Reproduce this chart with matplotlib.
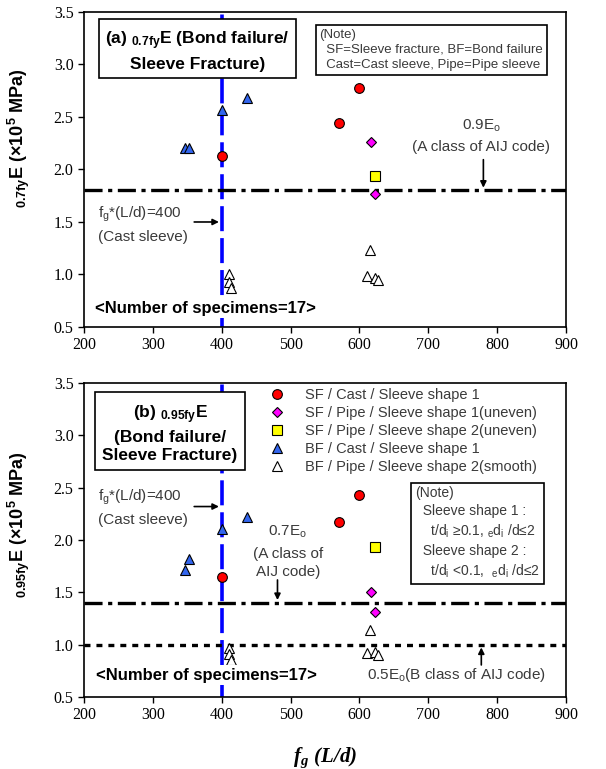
import numpy as np
import matplotlib
matplotlib.use("Agg")
import matplotlib.pyplot as plt

plt.rcParams['font.family'] = ['Liberation Sans', 'DejaVu Sans']
plt.rcParams['mathtext.fontset'] = 'custom'
plt.rcParams['mathtext.rm'] = 'Liberation Sans'
plt.rcParams['mathtext.it'] = 'Liberation Sans:italic'
plt.rcParams['mathtext.bf'] = 'Liberation Sans:bold'
plt.rcParams['mathtext.bfit'] = 'Liberation Serif:italic:bold'
plt.rcParams['lines.scale_dashes'] = False

# ---- data: panel (a) 0.7fy E ----
a_sf_cast_x = [400, 570, 600]
a_sf_cast_y = [2.13, 2.44, 2.78]
a_sf_pipe1_x = [617, 622]
a_sf_pipe1_y = [2.26, 1.77]
a_sf_pipe2_x = [622]
a_sf_pipe2_y = [1.94]
a_bf_cast_x = [347, 352, 400, 437]
a_bf_cast_y = [2.20, 2.20, 2.57, 2.68]
a_bf_pipe_x = [411, 410, 414, 616, 611, 622, 627]
a_bf_pipe_y = [1.00, 0.93, 0.87, 1.23, 0.99, 0.97, 0.95]

# ---- data: panel (b) 0.95fy E ----
b_sf_cast_x = [400, 570, 600]
b_sf_cast_y = [1.65, 2.17, 2.43]
b_sf_pipe1_x = [617, 622]
b_sf_pipe1_y = [1.50, 1.31]
b_sf_pipe2_x = [622]
b_sf_pipe2_y = [1.93]
b_bf_cast_x = [347, 352, 400, 437]
b_bf_cast_y = [1.71, 1.82, 2.11, 2.22]
b_bf_pipe_x = [411, 410, 414, 616, 611, 622, 627]
b_bf_pipe_y = [0.97, 0.91, 0.85, 1.14, 0.92, 0.93, 0.90]

labels = ["SF / Cast / Sleeve shape 1",
          "SF / Pipe / Sleeve shape 1(uneven)",
          "SF / Pipe / Sleeve shape 2(uneven)",
          "BF / Cast / Sleeve shape 1",
          "BF / Pipe / Sleeve shape 2(smooth)"]

xticks = [200, 300, 400, 500, 600, 700, 800, 900]
yticks = [0.5, 1.0, 1.5, 2.0, 2.5, 3.0, 3.5]
fg_limit = 400
line_a = 1.8      # 0.9 Eo
line_b = 1.4      # 0.7 Eo
line_b2 = 1.0     # 0.5 Eo

gray = '#3a3a3a'

fig = plt.figure(figsize=(6.06, 7.69), dpi=100)
ax1 = fig.add_axes([0.1386, 0.5748, 0.7954, 0.4096])
ax2 = fig.add_axes([0.1386, 0.0936, 0.7954, 0.4083])


def draw_points(ax, d, with_label=False):
	styles = [dict(marker='o', mfc='#FF0000', ms=7),
	          dict(marker='D', mfc='#FF00FF', ms=5),
	          dict(marker='s', mfc='#FFFF00', ms=7),
	          dict(marker='^', mfc='#3366EE', ms=7.5),
	          dict(marker='^', mfc='white', ms=7.5)]
	for i, (x, y) in enumerate(d):
		ax.plot(x, y, ls='none', mec='black', mew=0.8, zorder=5,
		        label=labels[i] if with_label else None, **styles[i])


def setup(ax):
	ax.set_xlim(200, 900)
	ax.set_ylim(0.5, 3.5)
	ax.set_xticks(xticks)
	ax.set_yticks(yticks)
	ax.set_yticklabels(["%.1f" % v for v in yticks])
	ax.tick_params(direction='out', length=4, width=1, labelsize=11.5)
	for lab in ax.get_xticklabels() + ax.get_yticklabels():
		lab.set_fontfamily('Liberation Serif')
	for s in ax.spines.values():
		s.set_linewidth(1.2)
	ax.axvline(fg_limit, color='#0000FF', lw=2.6, dashes=(18, 5), zorder=2)


white_bg = dict(boxstyle='square,pad=0.15', fc='white', ec='none')

# ---------------- panel (a) ----------------
setup(ax1)
ax1.axhline(line_a, color='black', lw=2.4, dashes=(13, 4, 3, 4), zorder=2)
draw_points(ax1, [(a_sf_cast_x, a_sf_cast_y), (a_sf_pipe1_x, a_sf_pipe1_y),
                  (a_sf_pipe2_x, a_sf_pipe2_y), (a_bf_cast_x, a_bf_cast_y),
                  (a_bf_pipe_x, a_bf_pipe_y)])
ax1.set_ylabel(r"$\mathbf{_{0.7fy}E\ (\times 10^5\ MPa)}$", fontsize=13)
ax1.yaxis.set_label_coords(-0.108, 0.6)

ax1.text(365, 3.13, r"(a) $\mathbf{_{0.7fy}E}$ (Bond failure/" + "\nSleeve Fracture)",
         ha='center', va='center', fontsize=12.5, fontweight='bold',
         linespacing=1.45, zorder=6,
         bbox=dict(boxstyle='square,pad=0.35', fc='white', ec='black', lw=1.2))
ax1.text(542, 3.14, "(Note)\n  SF=Sleeve fracture, BF=Bond failure\n  Cast=Cast sleeve, Pipe=Pipe sleeve",
         ha='left', va='center', fontsize=9.5, color=gray, linespacing=1.35,
         zorder=6, bbox=dict(boxstyle='square,pad=0.3', fc='white', ec='black', lw=1.2))
ax1.text(777, 2.42, r"0.9E$_\mathrm{o}$", ha='center', va='center', fontsize=11, color=gray)
ax1.text(777, 2.21, "(A class of AIJ code)", ha='center', va='center', fontsize=11, color=gray)
ax1.annotate("", xy=(780, line_a), xytext=(780, 2.12),
             arrowprops=dict(arrowstyle='-|>', color='black', lw=1.2, mutation_scale=9))
ax1.text(220, 1.57, r"f$_\mathrm{g}$*(L/d)=400", ha='left', va='center', fontsize=11, color=gray)
ax1.text(220, 1.36, "(Cast sleeve)", ha='left', va='center', fontsize=11, color=gray)
ax1.annotate("", xy=(fg_limit, 1.5), xytext=(356, 1.5),
             arrowprops=dict(arrowstyle='-|>', color='black', lw=1.2, mutation_scale=9))
ax1.text(216, 0.68, "<Number of specimens=17>", ha='left', va='center',
         fontsize=12, fontweight='bold', zorder=6, bbox=white_bg)

# ---------------- panel (b) ----------------
setup(ax2)
ax2.axhline(line_b, color='black', lw=2.4, dashes=(13, 4, 3, 4), zorder=2)
ax2.axhline(line_b2, color='black', lw=2.4, dashes=(4.3, 4.3), zorder=2)
draw_points(ax2, [(b_sf_cast_x, b_sf_cast_y), (b_sf_pipe1_x, b_sf_pipe1_y),
                  (b_sf_pipe2_x, b_sf_pipe2_y), (b_bf_cast_x, b_bf_cast_y),
                  (b_bf_pipe_x, b_bf_pipe_y)], with_label=True)
ax2.set_ylabel(r"$\mathbf{_{0.95fy}E\ (\times 10^5\ MPa)}$", fontsize=13)
ax2.yaxis.set_label_coords(-0.108, 0.55)
ax2.set_xlabel(r"$\mathbfit{f_g\ (L/d)}$", fontsize=15)
ax2.xaxis.set_label_coords(0.5, -0.155)

leg = ax2.legend(loc='upper left', bbox_to_anchor=(0.385, 0.985), frameon=False,
                 fontsize=10.5, handlelength=1.0, handletextpad=1.4,
                 labelspacing=0.28, borderpad=0, borderaxespad=0)
for t in leg.get_texts():
	t.set_color(gray)

ax2.text(325, 3.02, r"(b) $\mathbf{_{0.95fy}E}$" + "\n(Bond failure/\nSleeve Fracture)",
         ha='center', va='center', fontsize=12.5, fontweight='bold',
         linespacing=1.3, zorder=6,
         bbox=dict(boxstyle='square,pad=0.4', fc='white', ec='black', lw=1.2))
ax2.text(681, 2.07,
         "(Note)\n  Sleeve shape 1 :\n    t/d$_\\mathrm{i}$ \u22650.1, $_\\mathrm{e}$d$_\\mathrm{i}$ /d\u22642\n"
         "  Sleeve shape 2 :\n    t/d$_\\mathrm{i}$ <0.1,  $_\\mathrm{e}$d$_\\mathrm{i}$ /d\u22642",
         ha='left', va='center', fontsize=10, color=gray, linespacing=1.35,
         zorder=6, bbox=dict(boxstyle='square,pad=0.3', fc='white', ec='black', lw=1.2))
ax2.text(496, 2.08, r"0.7E$_\mathrm{o}$", ha='center', va='center', fontsize=11, color=gray)
ax2.text(496, 1.87, "(A class of", ha='center', va='center', fontsize=11, color=gray)
ax2.text(496, 1.69, "AIJ code)", ha='center', va='center', fontsize=11, color=gray)
ax2.annotate("", xy=(481, line_b), xytext=(481, 1.645),
             arrowprops=dict(arrowstyle='-|>', color='black', lw=1.2, mutation_scale=9))
ax2.text(220, 2.41, r"f$_\mathrm{g}$*(L/d)=400", ha='left', va='center', fontsize=11, color=gray)
ax2.text(220, 2.19, "(Cast sleeve)", ha='left', va='center', fontsize=11, color=gray)
ax2.annotate("", xy=(fg_limit, 2.32), xytext=(356, 2.32),
             arrowprops=dict(arrowstyle='-|>', color='black', lw=1.2, mutation_scale=9))
ax2.text(611, 0.71, r"0.5E$_\mathrm{o}$(B class of AIJ code)", ha='left', va='center',
         fontsize=11, color=gray)
ax2.annotate("", xy=(777, line_b2), xytext=(777, 0.78),
             arrowprops=dict(arrowstyle='-|>', color='black', lw=1.2, mutation_scale=9))
ax2.text(217, 0.71, "<Number of specimens=17>", ha='left', va='center',
         fontsize=12, fontweight='bold', zorder=6, bbox=white_bg)

fig.savefig('out.png', dpi=100)
